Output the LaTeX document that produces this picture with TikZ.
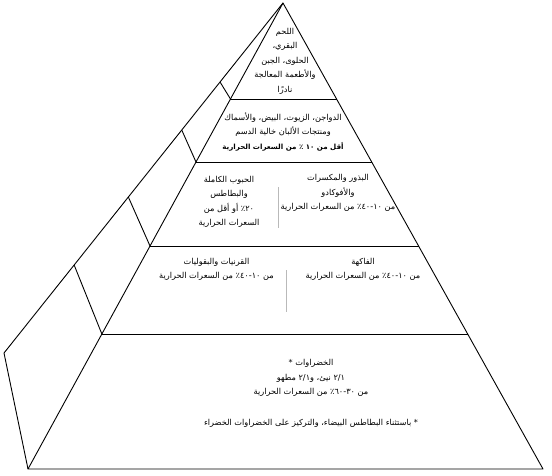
\documentclass[tikz,border=0pt]{standalone}
\usepackage{fontspec}
\newfontfamily\arabicfont[Script=Arabic]{DejaVu Sans}
\TeXXeTstate=1
\usetikzlibrary{calc}
\newcommand{\arline}[1]{\beginR #1\endR}
\begin{document}
\begin{tikzpicture}[x=1pt,y=-1pt,
  edge/.style={line width=0.9pt,black,line join=round},
  sepline/.style={line width=0.8pt,gray!55},
  lbl/.style={font=\arabicfont\fontsize{8.2}{14.5}\selectfont,align=center,inner sep=0pt}]
\useasboundingbox (0,0) rectangle (552,475);
% main corners
\coordinate (A) at (283,3);
\coordinate (FL) at (28,469);
\coordinate (FR) at (543,469);
\coordinate (BL) at (4,353);
% level points on front-left edge
\coordinate (L1l) at ($(A)!0.2060!(FL)$);
\coordinate (L2l) at ($(A)!0.3412!(FL)$);
\coordinate (L3l) at ($(A)!0.5215!(FL)$);
\coordinate (L4l) at ($(A)!0.7103!(FL)$);
% level points on right edge
\coordinate (L1r) at ($(A)!0.2060!(FR)$);
\coordinate (L2r) at ($(A)!0.3412!(FR)$);
\coordinate (L3r) at ($(A)!0.5215!(FR)$);
\coordinate (L4r) at ($(A)!0.7103!(FR)$);
% points on the outer (back) edge
\coordinate (O1) at ($(A)!0.2257!(BL)$);
\coordinate (O2) at ($(A)!0.3629!(BL)$);
\coordinate (O3) at ($(A)!0.5543!(BL)$);
\coordinate (O4) at ($(A)!0.7486!(BL)$);
% outline
\draw[edge] (A) -- (FL) -- (FR) -- cycle;
\draw[edge] (A) -- (BL) -- (FL);
% levels
\draw[edge] (L1l) -- (L1r);
\draw[edge] (L2l) -- (L2r);
\draw[edge] (L3l) -- (L3r);
\draw[edge] (L4l) -- (L4r);
% side dividers
\draw[edge] (L1l) -- (O1);
\draw[edge] (L2l) -- (O2);
\draw[edge] (L3l) -- (O3);
\draw[edge] (L4l) -- (O4);
% vertical separators
\coordinate (S3t) at (278,187);
\coordinate (S3b) at (278,228);
\coordinate (S4t) at (286,270);
\coordinate (S4b) at (286,312);
\draw[sepline] (S3t) -- (S3b);
\draw[sepline] (S4t) -- (S4b);
% texts
\node[lbl] (t1) at (285,61) {\arline{اللحم}\\ \arline{البقري،}\\ \arline{الحلوى، الجبن}\\ \arline{والأطعمة المعالجة}\\ \arline{نادرًا}};
\node[lbl] (t2) at (283,131.5) {\arline{الدواجن، الزيوت، البيض، والأسماك}\\ \arline{ومنتجات الألبان خالية الدسم}\\ \arline{\fontsize{7.1}{14.5}\selectfont\bfseries أقل من ١٠ ٪ من السعرات الحرارية}};
\node[lbl] (t3l) at (229,202) {\arline{الحبوب الكاملة}\\ \arline{والبطاطس}\\ \arline{٢٠٪ أو أقل من}\\ \arline{السعرات الحرارية}};
\node[lbl] (t3r) at (338,193) {\arline{البذور والمكسرات}\\ \arline{والأفوكادو}\\ \arline{من ١٠-٤٠٪ من السعرات الحرارية}};
\node[lbl] (t4l) at (216.5,269.5) {\arline{القرنيات والبقوليات}\\ \arline{من ١٠-٤٠٪ من السعرات الحرارية}};
\node[lbl] (t4r) at (363,269.5) {\arline{الفاكهة}\\ \arline{من ١٠-٤٠٪ من السعرات الحرارية}};
\node[lbl] (t5) at (311,378) {\arline{الخضراوات *}\\ \arline{٢/١ نيئ، و٢/١ مطهو}\\ \arline{من ٣٠-٦٠٪ من السعرات الحرارية}};
\node[lbl] (t5n) at (311,423) {\arline{* باستثناء البطاطس البيضاء، والتركيز على الخضراوات الخضراء}};
\end{tikzpicture}
\end{document}
